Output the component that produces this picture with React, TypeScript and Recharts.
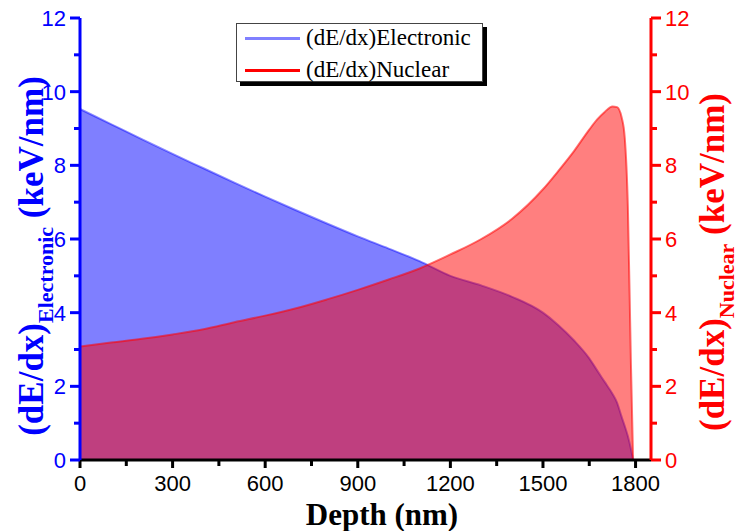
import {
  ComposedChart,
  Area,
  XAxis,
  YAxis,
  Legend,
} from "recharts";

const depth = [
  0, 100, 200, 300, 400, 500, 600, 700, 800, 900, 1000, 1100, 1200, 1300, 1400,
  1500, 1550, 1600, 1650, 1675, 1700, 1725, 1740, 1755, 1765, 1775, 1785, 1792,
];
const electronic = [
  9.53, 9.12, 8.71, 8.31, 7.92, 7.53, 7.15, 6.78, 6.42, 6.07, 5.74, 5.4, 5.0,
  4.74, 4.43, 4.0, 3.66, 3.25, 2.76, 2.44, 2.12, 1.8, 1.56, 1.17, 0.92, 0.65,
  0.3, 0,
];
const nuclear = [
  3.08, 3.19, 3.29, 3.41, 3.55, 3.74, 3.92, 4.12, 4.36, 4.62, 4.9, 5.2, 5.58,
  6.0, 6.55, 7.35, 7.85, 8.38, 8.97, 9.24, 9.45, 9.6, 9.58, 9.3, 8.75, 6.9, 2.6,
  0,
];
const xTicks = [0, 150, 300, 450, 600, 750, 900, 1050, 1200, 1350, 1500, 1650, 1800];
const yTicks = [0, 1, 2, 3, 4, 5, 6, 7, 8, 9, 10, 11, 12];

const data = depth.map((d, i) => ({ depth: d, electronic: electronic[i], nuclear: nuclear[i] }));

const BLUE = "#0000ff";
const RED = "#ff0000";
const sans = "'Liberation Sans', Arial, sans-serif";
const serif = "'Liberation Serif', 'Times New Roman', serif";

const XTick = (props: any) => {
  const { x, y, payload } = props;
  const major = payload.value % 300 === 0;
  return (
    <g>
      <line x1={x} x2={x} y1={y} y2={y + (major ? 8 : 6)} stroke="#000" strokeWidth={3} />
      {major && (
        <text x={x} y={y + 31} textAnchor="middle" fontFamily={sans} fontSize={22} fill="#000">
          {payload.value}
        </text>
      )}
    </g>
  );
};

const makeYTick = (side: "left" | "right", color: string) => (props: any) => {
  const { x, y, payload } = props;
  const major = payload.value % 2 === 0;
  const dir = side === "left" ? -1 : 1;
  const len = major ? 10 : 6;
  return (
    <g>
      <line x1={x} x2={x + dir * len} y1={y} y2={y} stroke={color} strokeWidth={3} />
      {major && (
        <text
          x={x + dir * 14}
          y={y}
          dy="0.36em"
          textAnchor={side === "left" ? "end" : "start"}
          fontFamily={sans}
          fontSize={22}
          fill={color}
        >
          {payload.value}
        </text>
      )}
    </g>
  );
};

const LegendBox = () => (
  <div
    style={{
      width: 247,
      height: 59,
      background: "#fff",
      border: "1px solid #444",
      boxShadow: "4px 4px 0 #000",
      fontFamily: serif,
      fontSize: 23,
      color: "#000",
      boxSizing: "border-box",
    }}
  >
    {[
      { name: "(dE/dx)Electronic", color: "#8080ff" },
      { name: "(dE/dx)Nuclear", color: RED },
    ].map((it, i) => (
      <div
        key={it.name}
        style={{ display: "flex", alignItems: "center", height: 28, marginTop: i === 0 ? 0 : 4, whiteSpace: "nowrap" }}
      >
        <div style={{ width: 55, height: 3, background: it.color, marginLeft: 8, marginRight: 6 }} />
        <span>{it.name}</span>
      </div>
    ))}
  </div>
);

export default function App() {
  return (
    <div style={{ position: "absolute", left: 0, top: 0, background: "#fff" }}>
      <ComposedChart
        width={739}
        height={531}
        data={data}
        margin={{ top: 18, right: 0, bottom: 0, left: 0 }}
      >
        <XAxis
          xAxisId="top"
          orientation="top"
          dataKey="depth"
          type="number"
          domain={[0, 1850]}
          height={0}
          tick={false}
          tickLine={false}
          axisLine={{ stroke: "#000", strokeWidth: 3 }}
        />
        <XAxis
          dataKey="depth"
          type="number"
          domain={[0, 1850]}
          ticks={xTicks}
          interval={0}
          height={71}
          tickSize={0}
          tickMargin={0}
          tickLine={false}
          axisLine={{ stroke: "#000", strokeWidth: 3 }}
          tick={<XTick />}
          label={{
            content: () => (
              <text x={382} y={525} textAnchor="middle" fontFamily={serif} fontWeight="bold" fontSize={31} fill="#000">
                Depth (nm)
              </text>
            ),
          }}
        />
        <YAxis
          yAxisId="left"
          domain={[0, 12]}
          ticks={yTicks}
          interval={0}
          width={80}
          tickSize={0}
          tickMargin={0}
          tickLine={false}
          axisLine={{ stroke: BLUE, strokeWidth: 3 }}
          tick={makeYTick("left", BLUE)}
          label={{
            content: () => (
              <text
                transform="translate(43,256) rotate(-90)"
                textAnchor="middle"
                fontFamily={serif}
                fontWeight="bold"
                fontSize={35}
                fill={BLUE}
              >
                <tspan>(dE/dx)</tspan>
                <tspan fontSize={22} dy={10}>Electronic</tspan>
                <tspan dy={-10}> (keV/nm)</tspan>
              </text>
            ),
          }}
        />
        <YAxis
          yAxisId="right"
          orientation="right"
          domain={[0, 12]}
          ticks={yTicks}
          interval={0}
          width={88}
          tickSize={0}
          tickMargin={0}
          tickLine={false}
          axisLine={{ stroke: RED, strokeWidth: 3 }}
          tick={makeYTick("right", RED)}
          label={{
            content: () => (
              <text
                transform="translate(724,262) rotate(-90)"
                textAnchor="middle"
                fontFamily={serif}
                fontWeight="bold"
                fontSize={35}
                fill={RED}
              >
                <tspan>(dE/dx)</tspan>
                <tspan fontSize={22} dy={10}>Nuclear</tspan>
                <tspan dy={-10}> (keV/nm)</tspan>
              </text>
            ),
          }}
        />
        <Legend
          layout="vertical"
          align="center"
          verticalAlign="middle"
          content={<LegendBox />}
          wrapperStyle={{ position: "absolute", left: 236, top: 23, width: 252 }}
        />
        <Area
          yAxisId="left"
          type="monotone"
          dataKey="electronic"
          stroke="rgba(0,0,255,0.45)"
          strokeWidth={2}
          fill={BLUE}
          fillOpacity={0.5}
          isAnimationActive={false}
        />
        <Area
          yAxisId="right"
          type="monotone"
          dataKey="nuclear"
          stroke="rgba(255,0,0,0.55)"
          strokeWidth={2}
          fill={RED}
          fillOpacity={0.5}
          isAnimationActive={false}
        />
      </ComposedChart>
    </div>
  );
}
